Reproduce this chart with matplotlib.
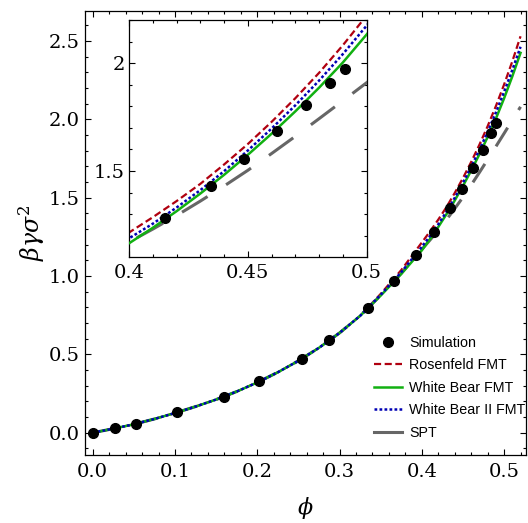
import numpy as np
import matplotlib
matplotlib.use("Agg")
import matplotlib.pyplot as plt
from matplotlib.lines import Line2D
from matplotlib.ticker import MultipleLocator, FuncFormatter

plt.rcParams["font.family"] = "DejaVu Serif"
plt.rcParams["mathtext.fontset"] = "dejavuserif"

# simulation points
phi_sim = [0.0, 0.027, 0.0526, 0.102, 0.160, 0.202, 0.254, 0.2875, 0.334,
           0.3665, 0.3932, 0.415, 0.4345, 0.4485, 0.4624, 0.4745, 0.4846, 0.4907]
gamma_sim = [0.0, 0.028, 0.0555, 0.130, 0.228, 0.328, 0.472, 0.592, 0.798,
             0.970, 1.132, 1.281, 1.432, 1.556, 1.687, 1.805, 1.910, 1.974]

# theory curves: shared low-density part, then per-theory values
phi_low = [0.0, 0.025, 0.05, 0.075, 0.1, 0.125, 0.15, 0.175, 0.2, 0.225,
           0.25, 0.275, 0.3, 0.325]
gamma_low = [0.0, 0.026, 0.054, 0.088, 0.126, 0.167, 0.212, 0.263, 0.321,
             0.386, 0.459, 0.542, 0.637, 0.746]
phi_high = [0.35, 0.375, 0.4, 0.41, 0.42, 0.43, 0.44, 0.45, 0.46, 0.47,
            0.48, 0.49, 0.50, 0.51, 0.52]
gamma_rf = [0.886, 1.038, 1.214, 1.285, 1.360, 1.440, 1.530, 1.625, 1.728,
            1.838, 1.956, 2.084, 2.222, 2.370, 2.530]
gamma_wb = [0.875, 1.013, 1.164, 1.236, 1.313, 1.395, 1.482, 1.575, 1.673,
            1.777, 1.887, 2.004, 2.134, 2.274, 2.424]
gamma_wb2 = [0.880, 1.024, 1.187, 1.255, 1.330, 1.411, 1.499, 1.595, 1.697,
             1.805, 1.920, 2.043, 2.175, 2.315, 2.463]
gamma_spt = [0.877, 1.018, 1.170, 1.230, 1.293, 1.360, 1.430, 1.503, 1.581,
             1.661, 1.743, 1.826, 1.910, 1.995, 2.080]

phi_th = phi_low + phi_high
curves = {
    "Rosenfeld FMT": gamma_low + gamma_rf,
    "White Bear FMT": gamma_low + gamma_wb,
    "White Bear II FMT": gamma_low + gamma_wb2,
    "SPT": gamma_low + gamma_spt,
}

RED = "#b00010"
GREEN = "#11b011"
BLUE = "#0000b4"
GRAY = "#666666"
TICK_SIZE = 14


def draw(ax, spt_dash):
    ax.plot(phi_th, curves["Rosenfeld FMT"], color=RED, lw=1.6, dashes=(3.2, 1.6), zorder=2)
    ax.plot(phi_th, curves["SPT"], color=GRAY, lw=2.2, dashes=spt_dash, zorder=3)
    ax.plot(phi_th, curves["White Bear FMT"], color=GREEN, lw=1.8, zorder=4)
    ax.plot(phi_th, curves["White Bear II FMT"], color=BLUE, lw=1.8, dashes=(1.1, 0.9), zorder=5)
    ax.plot(phi_sim, gamma_sim, "o", color="black", ms=7, zorder=6)


def frame_ticks(ax, size):
    ax.tick_params(which="both", direction="in", top=True, right=True,
                   labelsize=size, width=0.8, colors="black")
    ax.tick_params(which="major", length=4.5)
    ax.tick_params(which="minor", length=2.2)
    for s in ax.spines.values():
        s.set_linewidth(0.9)


fig = plt.figure(figsize=(5.28, 5.23), dpi=100)
ax = fig.add_axes([0.161, 0.130, 0.835, 0.8495])
draw(ax, (7.2, 6.8))
ax.set_xlim(-0.0094, 0.5265)
ax.set_ylim(-0.142, 2.693)
ax.xaxis.set_major_locator(MultipleLocator(0.1))
ax.xaxis.set_minor_locator(MultipleLocator(0.02))
ax.yaxis.set_major_locator(MultipleLocator(0.5))
ax.yaxis.set_minor_locator(MultipleLocator(0.1))
ax.xaxis.set_major_formatter(FuncFormatter(lambda v, p: "%.1f" % v))
ax.yaxis.set_major_formatter(FuncFormatter(lambda v, p: "%.1f" % v))
frame_ticks(ax, TICK_SIZE)
ax.tick_params(axis="x", pad=6)
ax.tick_params(axis="y", pad=4)
ax.set_xlabel(r"$\phi$", fontsize=16, labelpad=10)
ax.set_ylabel(r"$\beta\gamma\sigma^2$", fontsize=17, labelpad=1)

handles = [
    Line2D([], [], ls="none", marker="o", color="black", ms=7),
    Line2D([], [], color=RED, lw=1.6, dashes=(3.2, 1.6)),
    Line2D([], [], color=GREEN, lw=1.8),
    Line2D([], [], color=BLUE, lw=1.8, dashes=(1.1, 0.9)),
    Line2D([], [], color=GRAY, lw=2.2),
]
labels = ["Simulation", "Rosenfeld FMT", "White Bear FMT", "White Bear II FMT", "SPT"]
ax.legend(handles, labels, loc="upper left", bbox_to_anchor=(0.64, 0.285),
          frameon=False, prop={"family": "Liberation Sans", "size": 10.3},
          handlelength=1.9, handletextpad=0.55, labelspacing=0.6, borderpad=0,
          markerfirst=True)

# inset
axin = fig.add_axes([0.2443, 0.5092, 0.4502, 0.4526])
axin.set_facecolor("white")
draw(axin, (9.8, 7.2))
axin.set_xlim(0.4, 0.5)
axin.set_ylim(1.102, 2.201)
axin.xaxis.set_major_locator(MultipleLocator(0.05))
axin.xaxis.set_minor_locator(MultipleLocator(0.01))
axin.yaxis.set_major_locator(MultipleLocator(0.5))
axin.yaxis.set_minor_locator(MultipleLocator(0.1))
axin.xaxis.set_major_formatter(FuncFormatter(lambda v, p: "%g" % round(v, 3)))
axin.yaxis.set_major_formatter(FuncFormatter(lambda v, p: "%g" % round(v, 3)))
frame_ticks(axin, TICK_SIZE)
axin.tick_params(axis="x", pad=5)
axin.tick_params(axis="y", pad=3)

fig.savefig("out.png", dpi=100)
